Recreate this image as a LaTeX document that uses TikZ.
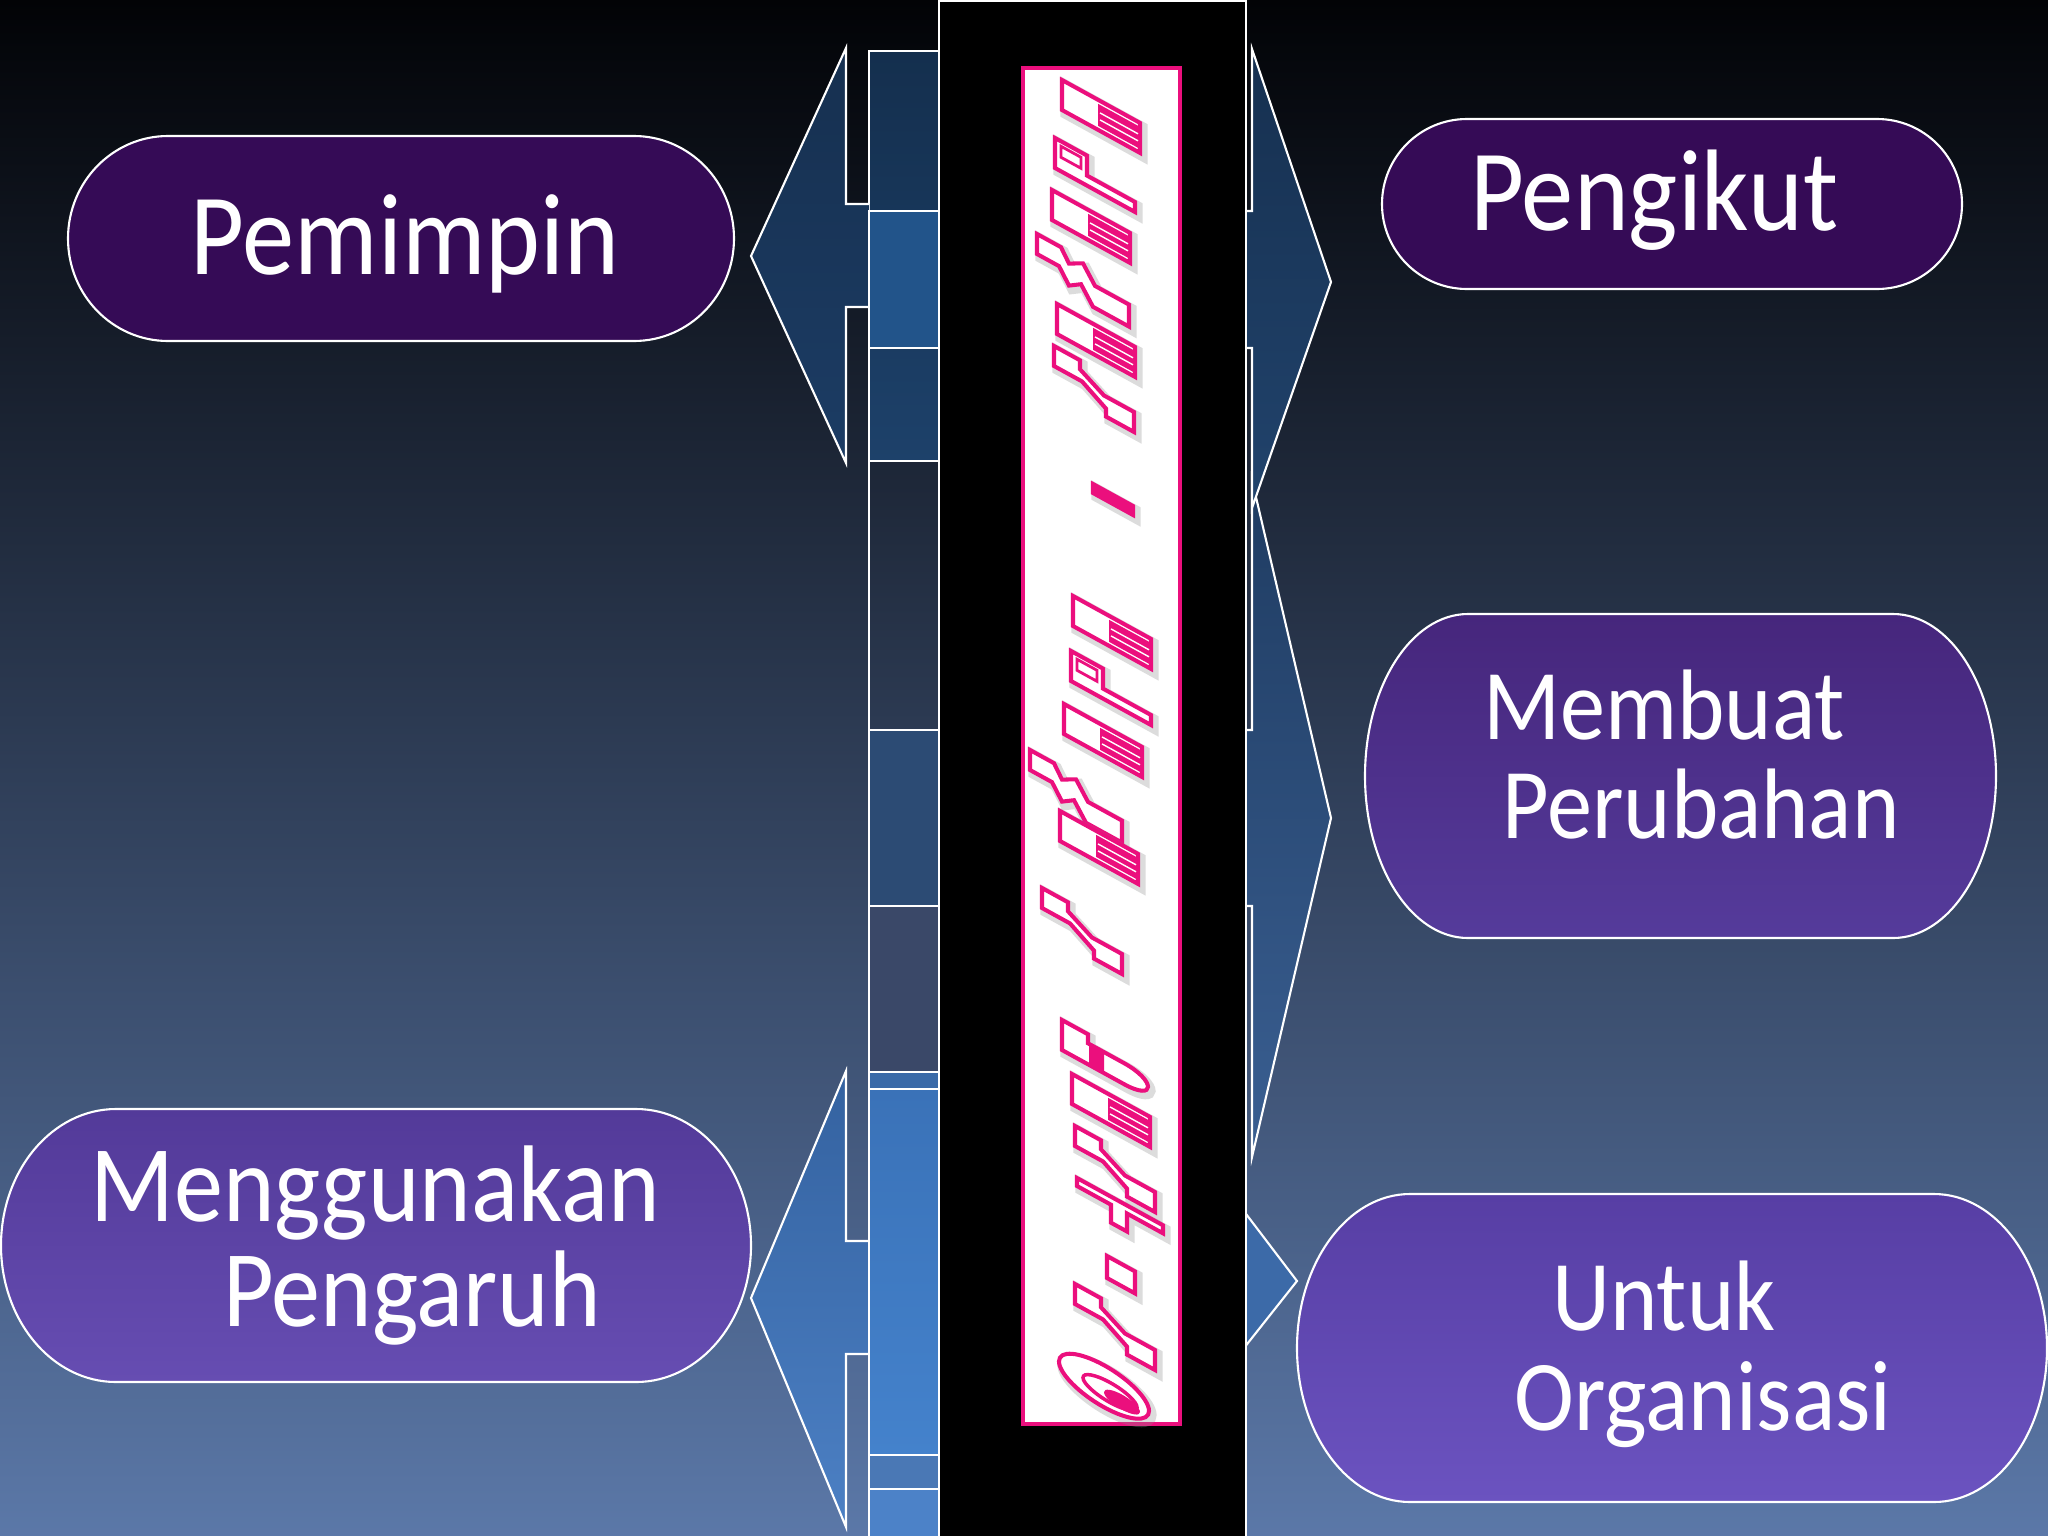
\documentclass[tikz,border=0pt]{standalone}
\usepackage{fontspec}
\setmainfont{Carlito}[FakeStretch=0.9]
\definecolor{bgtop}{RGB}{2,3,6}
\definecolor{bgmid}{RGB}{43,53,73}
\definecolor{bgbot}{RGB}{91,120,168}
\definecolor{wpink}{RGB}{235,15,125}
\definecolor{darkpurple}{RGB}{53,11,86}
\tikzset{
  wl/.style={draw=white, line width=0.6pt, line join=miter},
  gl/.style={draw=wpink, line width=1.15pt, fill=white, line join=miter},
  gsh/.style={draw=black!45, line width=2.6pt, opacity=0.3},
  lbl/.style={text=white, inner sep=0pt, anchor=base},
  bigtxt/.style={lbl, font=\fontsize{33}{36}\selectfont},
  midtxt/.style={lbl, font=\fontsize{31}{34}\selectfont},
  smltxt/.style={lbl, font=\fontsize{28.5}{32}\selectfont},
  termline/.style={draw=white, line width=0.6pt},
}
% terminator box: name, cx, cy, half w, half h, rx, style
\newcommand\termbox[7]{%
  \path[termline,#7] (#2-#4+#6,#3-#5) -- (#2+#4-#6,#3-#5)
    arc[start angle=90, end angle=-90, x radius=#6*0.01cm, y radius=#5*0.01cm]
    -- (#2-#4+#6,#3+#5)
    arc[start angle=270, end angle=90, x radius=#6*0.01cm, y radius=#5*0.01cm] -- cycle;
  \coordinate (#1) at (#2,#3);}
% glyph shapes of the word-art
\newcommand\waBlk[1]{\path[#1] (0,0) rectangle (78,30);}
\newcommand\waBlkx{\fill[wpink] (36,4) rectangle (76,26);
  \draw[white, line width=0.4pt] (38,12)--(76,12) (38,19)--(76,19);}
\newcommand\waP[1]{\path[#1] (0,0) -- (32,0) -- (32,20) -- (80,20) -- (80,30) -- (0,30) -- cycle;}
\newcommand\waPx{\draw[wpink, line width=0.8pt] (6,5) rectangle (26,16);}
\newcommand\waM[1]{\path[#1] (0,0) -- (24,0) -- (32,12) -- (46,4) -- (58,20) -- (92,20) -- (92,42) -- (56,42) -- (44,26) -- (32,34) -- (22,20) -- (0,20) -- cycle;}
\newcommand\waMx{}
\newcommand\waZ[1]{\path[#1] (0,0) -- (26,0) -- (26,9) -- (50,22) -- (80,22) -- (80,42) -- (52,42) -- (52,34) -- (28,20) -- (0,20) -- cycle;}
\newcommand\waZx{}
\newcommand\waD[1]{\path[#1] (0,0) rectangle (40,9);}
\newcommand\waDx{\fill[wpink] (0,0) rectangle (40,9);}
\newcommand\waO[1]{\path[#1] (0,0) rectangle (28,22);}
\newcommand\waOx{}
\newcommand\waT[1]{\path[#1] (0,0) -- (86,0) -- (86,8) -- (50,8) -- (50,26) -- (34,26) -- (34,8) -- (0,8) -- cycle;}
\newcommand\waTx{}
\newcommand\waR[1]{\path[#1] (0,0) -- (26,0) -- (26,9) -- (62,9) .. controls (94,9) and (94,30) .. (62,30) -- (0,30) -- cycle;}
\newcommand\waRx{\fill[wpink] (27,10.5) rectangle (42,28.5);}
\newcommand\waE[1]{\path[#1] (44,20) ellipse [x radius=0.45cm, y radius=0.21cm];}
\newcommand\waEx{\fill[wpink] (62,26) ellipse [x radius=0.18cm, y radius=0.075cm];
  \draw[wpink, line width=1pt] (50,23) ellipse [x radius=0.27cm, y radius=0.10cm];}
\newcommand\glyph[3]{%
  \begin{scope}[shift={(#2+3,#3+4)}, yslant=-0.55]\csname wa#1\endcsname{gsh}\end{scope}
  \begin{scope}[shift={(#2,#3)}, yslant=-0.55]\csname wa#1\endcsname{gl}\csname wa#1x\endcsname\end{scope}}
\begin{document}
\begin{tikzpicture}[x=0.01cm, y=-0.01cm]
\useasboundingbox (0,0) rectangle (2048,1536);
% background
\shade[top color=bgtop, middle color=bgmid, bottom color=bgbot] (0,0) rectangle (2048,1536);

% ---- left strip boxes and left arrows ----
\path[wl, top color={rgb,255:red,20;green,47;blue,78}, bottom color={rgb,255:red,29;green,65;blue,106}] (869,51) rectangle (960,461);
\path[wl, top color={rgb,255:red,22;green,48;blue,80}, middle color={rgb,255:red,32;green,72;blue,120}, bottom color={rgb,255:red,28;green,60;blue,100}]
  (869,204) -- (846,204) -- (846,48) -- (751,256) -- (846,463) -- (846,307) -- (869,307);
\path[wl, fill={rgb,255:red,34;green,84;blue,138}] (869,211) rectangle (960,348);
\path[wl] (869,461) rectangle (960,730);
\path[wl, fill={rgb,255:red,44;green,75;blue,116}] (869,730) rectangle (960,906);
\path[wl, fill={rgb,255:red,58;green,72;blue,104}] (869,906) rectangle (960,1072);
\path[wl, fill={rgb,255:red,58;green,106;blue,168}] (869,1072) rectangle (960,1545);
\path[wl, top color={rgb,255:red,52;green,98;blue,160}, bottom color={rgb,255:red,76;green,128;blue,196}]
  (869,1241) -- (846,1241) -- (846,1071) -- (751,1298) -- (846,1527) -- (846,1354) -- (869,1354);
\path[wl, top color={rgb,255:red,58;green,114;blue,184}, bottom color={rgb,255:red,68;green,130;blue,204}] (869,1089) rectangle (960,1455);
\path[wl, fill={rgb,255:red,74;green,120;blue,181}] (869,1455) rectangle (960,1489);
\path[wl, fill={rgb,255:red,76;green,130;blue,200}] (869,1489) rectangle (960,1545);

% ---- right arrows ----
\path[wl, top color={rgb,255:red,31;green,60;blue,98}, bottom color={rgb,255:red,58;green,95;blue,146}]
  (1240,730) -- (1252,730) -- (1252,480) -- (1331,818) -- (1252,1157) -- (1252,906) -- (1240,906);
\path[wl, top color={rgb,255:red,22;green,48;blue,80}, bottom color={rgb,255:red,33;green,67;blue,108}]
  (1240,211) -- (1252,211) -- (1252,49) -- (1331,282) -- (1252,508) -- (1252,348) -- (1240,348);
\path[wl, fill={rgb,255:red,60;green,106;blue,168}] (1240,1206) -- (1297,1281) -- (1240,1353);

% ---- central column ----
\path[draw=white, line width=0.7pt, fill=black] (939,1) rectangle (1246,1545);
\path[draw=wpink, line width=1.1pt, fill=white] (1023,68) rectangle (1180,1424);

% ---- word-art glyphs ----
\glyph{Blk}{1062}{80}
\glyph{P}{1055}{138}
\glyph{Blk}{1052}{190}
\glyph{M}{1037}{234}
\glyph{Blk}{1057}{304}
\glyph{Z}{1054}{346}
\glyph{D}{1093}{484}
\glyph{Blk}{1073}{596}
\glyph{P}{1071}{651}
\glyph{Blk}{1064}{704}
\glyph{M}{1030}{750}
\glyph{Blk}{1060}{811}
\glyph{Z}{1042}{888}
\glyph{R}{1062}{1020}
\glyph{Blk}{1072}{1074}
\glyph{Z}{1075}{1126}
\glyph{T}{1077}{1178}
\glyph{O}{1107}{1256}
\glyph{Z}{1075}{1284}
\glyph{E}{1060}{1342}

% ---- terminator boxes ----
\termbox{pem}{401}{238.5}{333}{102.5}{100}{fill=darkpurple}
\termbox{pen}{1672}{204}{290}{85}{85}{fill=darkpurple}
\termbox{mem}{1680.5}{776}{315.5}{162}{103}{top color={rgb,255:red,70;green,38;blue,124}, bottom color={rgb,255:red,85;green,59;blue,155}}
\termbox{men}{376}{1245.5}{375}{136.5}{115}{top color={rgb,255:red,83;green,58;blue,153}, bottom color={rgb,255:red,102;green,77;blue,178}}
\termbox{unt}{1672}{1348}{375}{154}{113}{top color={rgb,255:red,87;green,62;blue,164}, bottom color={rgb,255:red,107;green,83;blue,192}}

% ---- texts ----
\node[bigtxt] (pemT) at (405,274) {Pemimpin};
\node[bigtxt] (penT) at (1654,230) {Pengikut};
\node[smltxt] (memT1) at (1664,739) {Membuat};
\node[smltxt] (memT2) at (1701,838) {Perubahan};
\node[midtxt] (menT1) at (375,1221) {Menggunakan};
\node[midtxt] (menT2) at (412,1326) {Pengaruh};
\node[smltxt] (untT1) at (1664,1330) {Untuk};
\node[smltxt] (untT2) at (1703,1430) {Organisasi};
\end{tikzpicture}
\end{document}
